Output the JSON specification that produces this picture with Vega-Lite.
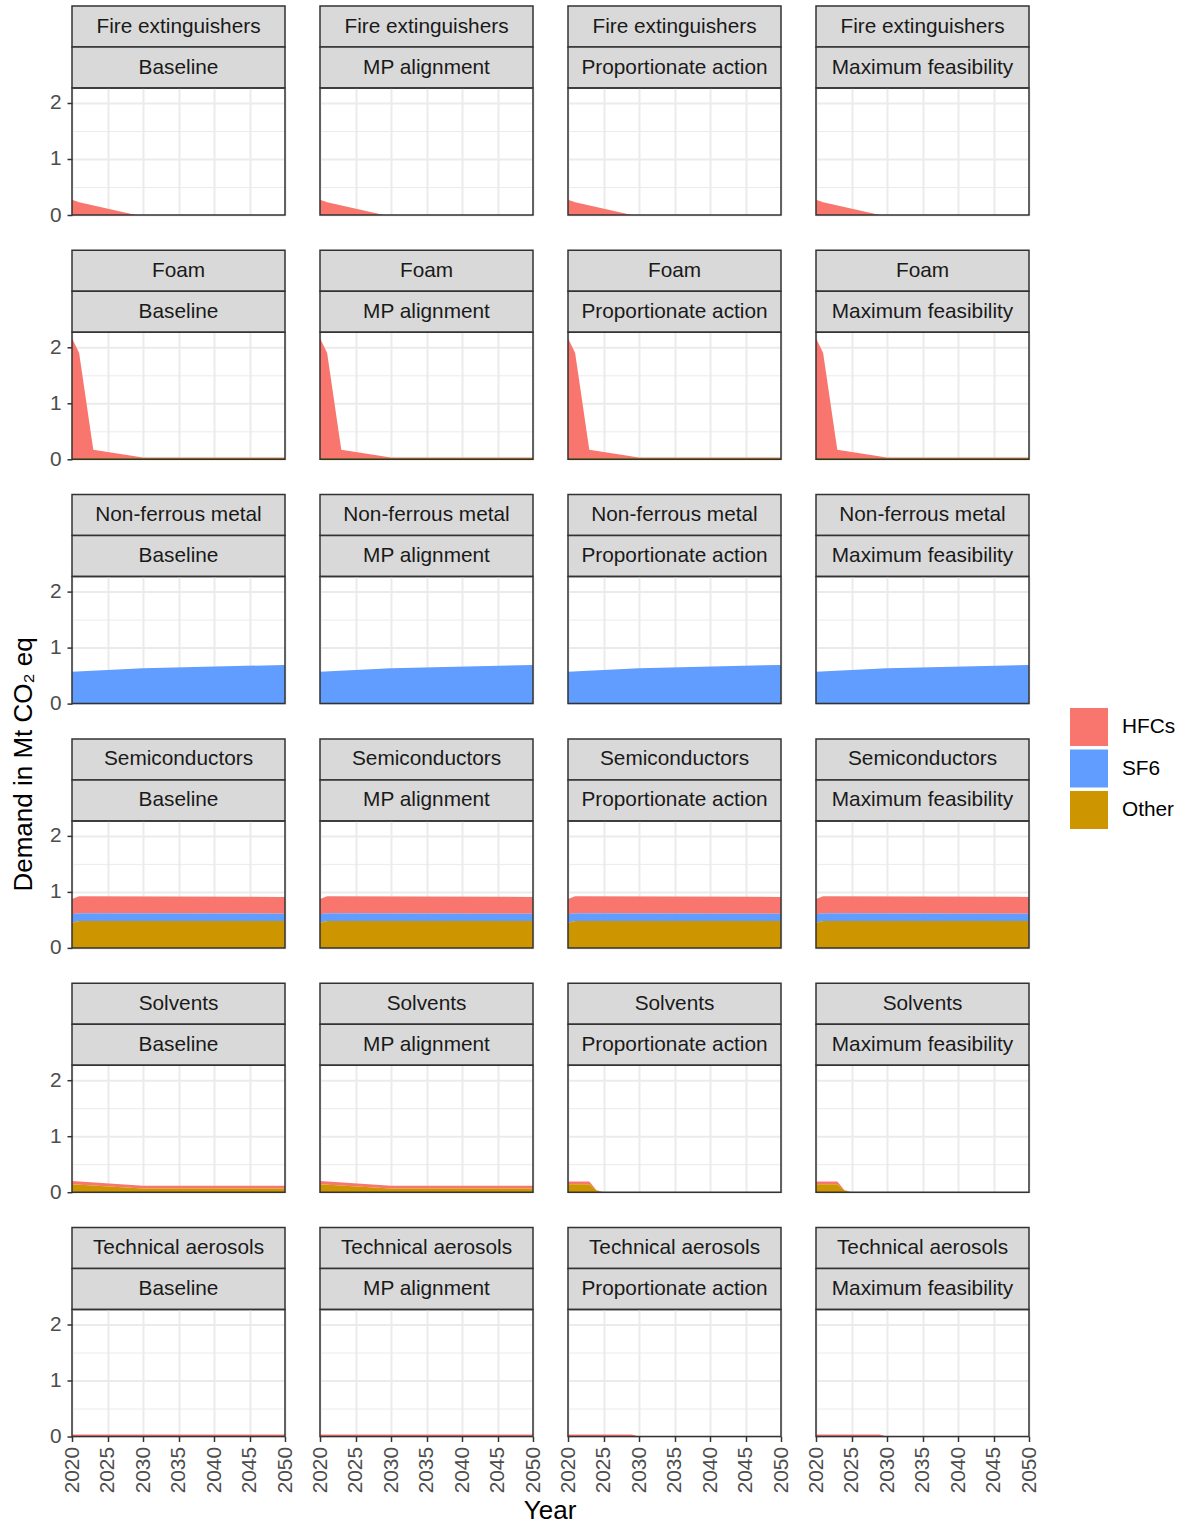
{
"$schema": "https://vega.github.io/schema/vega-lite/v6.json",
"padding": {"left": 10, "top": 5, "right": 5, "bottom": 1},
"title": {"text": "Demand in Mt CO₂ eq", "orient": "left", "anchor": "middle", "fontSize": 26, "fontWeight": "normal", "color": "black", "offset": 12},
"data": {"name": "d"},
"transform": [{"fold": ["HFCs","SF6","Other"], "as": ["gas","v"]}, {"calculate": "indexof(['Other','SF6','HFCs'], datum.gas)", "as": "k"}],
"datasets": {
"p": [
{"sector":"Fire extinguishers","scenario":"Baseline"},{"sector":"Fire extinguishers","scenario":"MP alignment"},{"sector":"Fire extinguishers","scenario":"Proportionate action"},{"sector":"Fire extinguishers","scenario":"Maximum feasibility"},
{"sector":"Foam","scenario":"Baseline"},{"sector":"Foam","scenario":"MP alignment"},{"sector":"Foam","scenario":"Proportionate action"},{"sector":"Foam","scenario":"Maximum feasibility"},
{"sector":"Non-ferrous metal","scenario":"Baseline"},{"sector":"Non-ferrous metal","scenario":"MP alignment"},{"sector":"Non-ferrous metal","scenario":"Proportionate action"},{"sector":"Non-ferrous metal","scenario":"Maximum feasibility"},
{"sector":"Semiconductors","scenario":"Baseline"},{"sector":"Semiconductors","scenario":"MP alignment"},{"sector":"Semiconductors","scenario":"Proportionate action"},{"sector":"Semiconductors","scenario":"Maximum feasibility"},
{"sector":"Solvents","scenario":"Baseline"},{"sector":"Solvents","scenario":"MP alignment"},{"sector":"Solvents","scenario":"Proportionate action"},{"sector":"Solvents","scenario":"Maximum feasibility"},
{"sector":"Technical aerosols","scenario":"Baseline"},{"sector":"Technical aerosols","scenario":"MP alignment"},{"sector":"Technical aerosols","scenario":"Proportionate action"},{"sector":"Technical aerosols","scenario":"Maximum feasibility"}
],
"d": [
{"sector":"Fire extinguishers","scenario":"Baseline","year":2020,"HFCs":0.27,"SF6":0,"Other":0},
{"sector":"Fire extinguishers","scenario":"Baseline","year":2021,"HFCs":0.226,"SF6":0,"Other":0},
{"sector":"Fire extinguishers","scenario":"Baseline","year":2029,"HFCs":0,"SF6":0,"Other":0},
{"sector":"Fire extinguishers","scenario":"Baseline","year":2050,"HFCs":0,"SF6":0,"Other":0},
{"sector":"Fire extinguishers","scenario":"MP alignment","year":2020,"HFCs":0.27,"SF6":0,"Other":0},
{"sector":"Fire extinguishers","scenario":"MP alignment","year":2021,"HFCs":0.226,"SF6":0,"Other":0},
{"sector":"Fire extinguishers","scenario":"MP alignment","year":2029,"HFCs":0,"SF6":0,"Other":0},
{"sector":"Fire extinguishers","scenario":"MP alignment","year":2050,"HFCs":0,"SF6":0,"Other":0},
{"sector":"Fire extinguishers","scenario":"Proportionate action","year":2020,"HFCs":0.27,"SF6":0,"Other":0},
{"sector":"Fire extinguishers","scenario":"Proportionate action","year":2021,"HFCs":0.226,"SF6":0,"Other":0},
{"sector":"Fire extinguishers","scenario":"Proportionate action","year":2029,"HFCs":0,"SF6":0,"Other":0},
{"sector":"Fire extinguishers","scenario":"Proportionate action","year":2050,"HFCs":0,"SF6":0,"Other":0},
{"sector":"Fire extinguishers","scenario":"Maximum feasibility","year":2020,"HFCs":0.27,"SF6":0,"Other":0},
{"sector":"Fire extinguishers","scenario":"Maximum feasibility","year":2021,"HFCs":0.226,"SF6":0,"Other":0},
{"sector":"Fire extinguishers","scenario":"Maximum feasibility","year":2029,"HFCs":0,"SF6":0,"Other":0},
{"sector":"Fire extinguishers","scenario":"Maximum feasibility","year":2050,"HFCs":0,"SF6":0,"Other":0},
{"sector":"Foam","scenario":"Baseline","year":2020,"HFCs":2.135,"SF6":0,"Other":0.025},
{"sector":"Foam","scenario":"Baseline","year":2021,"HFCs":1.875,"SF6":0,"Other":0.025},
{"sector":"Foam","scenario":"Baseline","year":2023,"HFCs":0.145,"SF6":0,"Other":0.025},
{"sector":"Foam","scenario":"Baseline","year":2030,"HFCs":0.005,"SF6":0,"Other":0.025},
{"sector":"Foam","scenario":"Baseline","year":2050,"HFCs":0.005,"SF6":0,"Other":0.025},
{"sector":"Foam","scenario":"MP alignment","year":2020,"HFCs":2.135,"SF6":0,"Other":0.025},
{"sector":"Foam","scenario":"MP alignment","year":2021,"HFCs":1.875,"SF6":0,"Other":0.025},
{"sector":"Foam","scenario":"MP alignment","year":2023,"HFCs":0.145,"SF6":0,"Other":0.025},
{"sector":"Foam","scenario":"MP alignment","year":2030,"HFCs":0.005,"SF6":0,"Other":0.025},
{"sector":"Foam","scenario":"MP alignment","year":2050,"HFCs":0.005,"SF6":0,"Other":0.025},
{"sector":"Foam","scenario":"Proportionate action","year":2020,"HFCs":2.135,"SF6":0,"Other":0.025},
{"sector":"Foam","scenario":"Proportionate action","year":2021,"HFCs":1.875,"SF6":0,"Other":0.025},
{"sector":"Foam","scenario":"Proportionate action","year":2023,"HFCs":0.145,"SF6":0,"Other":0.025},
{"sector":"Foam","scenario":"Proportionate action","year":2030,"HFCs":0.005,"SF6":0,"Other":0.025},
{"sector":"Foam","scenario":"Proportionate action","year":2050,"HFCs":0.005,"SF6":0,"Other":0.025},
{"sector":"Foam","scenario":"Maximum feasibility","year":2020,"HFCs":2.135,"SF6":0,"Other":0.025},
{"sector":"Foam","scenario":"Maximum feasibility","year":2021,"HFCs":1.875,"SF6":0,"Other":0.025},
{"sector":"Foam","scenario":"Maximum feasibility","year":2023,"HFCs":0.145,"SF6":0,"Other":0.025},
{"sector":"Foam","scenario":"Maximum feasibility","year":2030,"HFCs":0.005,"SF6":0,"Other":0.025},
{"sector":"Foam","scenario":"Maximum feasibility","year":2050,"HFCs":0.005,"SF6":0,"Other":0.025},
{"sector":"Non-ferrous metal","scenario":"Baseline","year":2020,"HFCs":0,"SF6":0.57,"Other":0},
{"sector":"Non-ferrous metal","scenario":"Baseline","year":2025,"HFCs":0,"SF6":0.6,"Other":0},
{"sector":"Non-ferrous metal","scenario":"Baseline","year":2030,"HFCs":0,"SF6":0.63,"Other":0},
{"sector":"Non-ferrous metal","scenario":"Baseline","year":2050,"HFCs":0,"SF6":0.69,"Other":0},
{"sector":"Non-ferrous metal","scenario":"MP alignment","year":2020,"HFCs":0,"SF6":0.57,"Other":0},
{"sector":"Non-ferrous metal","scenario":"MP alignment","year":2025,"HFCs":0,"SF6":0.6,"Other":0},
{"sector":"Non-ferrous metal","scenario":"MP alignment","year":2030,"HFCs":0,"SF6":0.63,"Other":0},
{"sector":"Non-ferrous metal","scenario":"MP alignment","year":2050,"HFCs":0,"SF6":0.69,"Other":0},
{"sector":"Non-ferrous metal","scenario":"Proportionate action","year":2020,"HFCs":0,"SF6":0.57,"Other":0},
{"sector":"Non-ferrous metal","scenario":"Proportionate action","year":2025,"HFCs":0,"SF6":0.6,"Other":0},
{"sector":"Non-ferrous metal","scenario":"Proportionate action","year":2030,"HFCs":0,"SF6":0.63,"Other":0},
{"sector":"Non-ferrous metal","scenario":"Proportionate action","year":2050,"HFCs":0,"SF6":0.69,"Other":0},
{"sector":"Non-ferrous metal","scenario":"Maximum feasibility","year":2020,"HFCs":0,"SF6":0.57,"Other":0},
{"sector":"Non-ferrous metal","scenario":"Maximum feasibility","year":2025,"HFCs":0,"SF6":0.6,"Other":0},
{"sector":"Non-ferrous metal","scenario":"Maximum feasibility","year":2030,"HFCs":0,"SF6":0.63,"Other":0},
{"sector":"Non-ferrous metal","scenario":"Maximum feasibility","year":2050,"HFCs":0,"SF6":0.69,"Other":0},
{"sector":"Semiconductors","scenario":"Baseline","year":2020,"HFCs":0.27,"SF6":0.15,"Other":0.45},
{"sector":"Semiconductors","scenario":"Baseline","year":2021,"HFCs":0.3,"SF6":0.14,"Other":0.48},
{"sector":"Semiconductors","scenario":"Baseline","year":2050,"HFCs":0.3,"SF6":0.13,"Other":0.48},
{"sector":"Semiconductors","scenario":"MP alignment","year":2020,"HFCs":0.27,"SF6":0.15,"Other":0.45},
{"sector":"Semiconductors","scenario":"MP alignment","year":2021,"HFCs":0.3,"SF6":0.14,"Other":0.48},
{"sector":"Semiconductors","scenario":"MP alignment","year":2050,"HFCs":0.3,"SF6":0.13,"Other":0.48},
{"sector":"Semiconductors","scenario":"Proportionate action","year":2020,"HFCs":0.27,"SF6":0.15,"Other":0.45},
{"sector":"Semiconductors","scenario":"Proportionate action","year":2021,"HFCs":0.3,"SF6":0.14,"Other":0.48},
{"sector":"Semiconductors","scenario":"Proportionate action","year":2050,"HFCs":0.3,"SF6":0.13,"Other":0.48},
{"sector":"Semiconductors","scenario":"Maximum feasibility","year":2020,"HFCs":0.27,"SF6":0.15,"Other":0.45},
{"sector":"Semiconductors","scenario":"Maximum feasibility","year":2021,"HFCs":0.3,"SF6":0.14,"Other":0.48},
{"sector":"Semiconductors","scenario":"Maximum feasibility","year":2050,"HFCs":0.3,"SF6":0.13,"Other":0.48},
{"sector":"Solvents","scenario":"Baseline","year":2020,"HFCs":0.06,"SF6":0,"Other":0.14},
{"sector":"Solvents","scenario":"Baseline","year":2030,"HFCs":0.05,"SF6":0,"Other":0.065},
{"sector":"Solvents","scenario":"Baseline","year":2050,"HFCs":0.05,"SF6":0,"Other":0.065},
{"sector":"Solvents","scenario":"MP alignment","year":2020,"HFCs":0.06,"SF6":0,"Other":0.14},
{"sector":"Solvents","scenario":"MP alignment","year":2030,"HFCs":0.05,"SF6":0,"Other":0.065},
{"sector":"Solvents","scenario":"MP alignment","year":2050,"HFCs":0.05,"SF6":0,"Other":0.065},
{"sector":"Solvents","scenario":"Proportionate action","year":2020,"HFCs":0.05,"SF6":0,"Other":0.14},
{"sector":"Solvents","scenario":"Proportionate action","year":2023,"HFCs":0.05,"SF6":0,"Other":0.14},
{"sector":"Solvents","scenario":"Proportionate action","year":2024,"HFCs":0.01,"SF6":0,"Other":0.03},
{"sector":"Solvents","scenario":"Proportionate action","year":2025,"HFCs":0,"SF6":0,"Other":0},
{"sector":"Solvents","scenario":"Proportionate action","year":2050,"HFCs":0,"SF6":0,"Other":0},
{"sector":"Solvents","scenario":"Maximum feasibility","year":2020,"HFCs":0.05,"SF6":0,"Other":0.14},
{"sector":"Solvents","scenario":"Maximum feasibility","year":2023,"HFCs":0.05,"SF6":0,"Other":0.14},
{"sector":"Solvents","scenario":"Maximum feasibility","year":2024,"HFCs":0.01,"SF6":0,"Other":0.03},
{"sector":"Solvents","scenario":"Maximum feasibility","year":2025,"HFCs":0,"SF6":0,"Other":0},
{"sector":"Solvents","scenario":"Maximum feasibility","year":2050,"HFCs":0,"SF6":0,"Other":0},
{"sector":"Technical aerosols","scenario":"Baseline","year":2020,"HFCs":0.035,"SF6":0,"Other":0},
{"sector":"Technical aerosols","scenario":"Baseline","year":2050,"HFCs":0.035,"SF6":0,"Other":0},
{"sector":"Technical aerosols","scenario":"MP alignment","year":2020,"HFCs":0.035,"SF6":0,"Other":0},
{"sector":"Technical aerosols","scenario":"MP alignment","year":2050,"HFCs":0.035,"SF6":0,"Other":0},
{"sector":"Technical aerosols","scenario":"Proportionate action","year":2020,"HFCs":0.035,"SF6":0,"Other":0},
{"sector":"Technical aerosols","scenario":"Proportionate action","year":2029,"HFCs":0.035,"SF6":0,"Other":0},
{"sector":"Technical aerosols","scenario":"Proportionate action","year":2030,"HFCs":0,"SF6":0,"Other":0},
{"sector":"Technical aerosols","scenario":"Proportionate action","year":2050,"HFCs":0,"SF6":0,"Other":0},
{"sector":"Technical aerosols","scenario":"Maximum feasibility","year":2020,"HFCs":0.035,"SF6":0,"Other":0},
{"sector":"Technical aerosols","scenario":"Maximum feasibility","year":2029,"HFCs":0.035,"SF6":0,"Other":0},
{"sector":"Technical aerosols","scenario":"Maximum feasibility","year":2030,"HFCs":0,"SF6":0,"Other":0},
{"sector":"Technical aerosols","scenario":"Maximum feasibility","year":2050,"HFCs":0,"SF6":0,"Other":0}
]
},
"spacing": 23.3,
"vconcat": [
{"hconcat": [
{"vconcat":[
{"width":213,"height":41,"view":{"fill":"#D9D9D9","stroke":"#333333","strokeWidth":1.5},"data":{"name":"p"},"transform":[{"filter":"datum.sector=='Fire extinguishers'&&datum.scenario=='Baseline'"}],"mark":"text","encoding":{"text":{"field":"sector"}}},
{"width":213,"height":41,"view":{"fill":"#D9D9D9","stroke":"#333333","strokeWidth":1.5},"data":{"name":"p"},"transform":[{"filter":"datum.sector=='Fire extinguishers'&&datum.scenario=='Baseline'"}],"mark":"text","encoding":{"text":{"field":"scenario"}}},
{"width":213,"height":127,"transform":[{"filter":"datum.sector=='Fire extinguishers'&&datum.scenario=='Baseline'"}],"mark":"area","encoding":{"x":{"field":"year","type":"quantitative","scale":{"domain":[2020,2050],"nice":false,"zero":false},"axis":{"labels":false,"ticks":false,"title":null}},"y":{"field":"v","type":"quantitative","stack":"zero","scale":{"domain":[0,2.265],"nice":false},"axis":{"title":null,"gridWidth":{"condition":{"test":"datum.value % 1","value":1},"value":2},"tickOpacity":{"condition":{"test":"datum.value % 1","value":0},"value":1}}},"order":{"field":"k","type":"quantitative"},"color":{"field":"gas","type":"nominal","title":null,"sort":["HFCs","SF6","Other"],"scale":{"domain":["HFCs","SF6","Other"],"range":["#F8766D","#619CFF","#CD9600"]}}}}
],"spacing":0,"bounds":"flush"},
{"vconcat":[
{"width":213,"height":41,"view":{"fill":"#D9D9D9","stroke":"#333333","strokeWidth":1.5},"data":{"name":"p"},"transform":[{"filter":"datum.sector=='Fire extinguishers'&&datum.scenario=='MP alignment'"}],"mark":"text","encoding":{"text":{"field":"sector"}}},
{"width":213,"height":41,"view":{"fill":"#D9D9D9","stroke":"#333333","strokeWidth":1.5},"data":{"name":"p"},"transform":[{"filter":"datum.sector=='Fire extinguishers'&&datum.scenario=='MP alignment'"}],"mark":"text","encoding":{"text":{"field":"scenario"}}},
{"width":213,"height":127,"transform":[{"filter":"datum.sector=='Fire extinguishers'&&datum.scenario=='MP alignment'"}],"mark":"area","encoding":{"x":{"field":"year","type":"quantitative","scale":{"domain":[2020,2050],"nice":false,"zero":false},"axis":{"labels":false,"ticks":false,"title":null}},"y":{"field":"v","type":"quantitative","stack":"zero","scale":{"domain":[0,2.265],"nice":false},"axis":{"title":null,"labels":false,"ticks":false,"gridWidth":{"condition":{"test":"datum.value % 1","value":1},"value":2}}},"order":{"field":"k","type":"quantitative"},"color":{"field":"gas","type":"nominal","title":null,"sort":["HFCs","SF6","Other"],"scale":{"domain":["HFCs","SF6","Other"],"range":["#F8766D","#619CFF","#CD9600"]}}}}
],"spacing":0,"bounds":"flush"},
{"vconcat":[
{"width":213,"height":41,"view":{"fill":"#D9D9D9","stroke":"#333333","strokeWidth":1.5},"data":{"name":"p"},"transform":[{"filter":"datum.sector=='Fire extinguishers'&&datum.scenario=='Proportionate action'"}],"mark":"text","encoding":{"text":{"field":"sector"}}},
{"width":213,"height":41,"view":{"fill":"#D9D9D9","stroke":"#333333","strokeWidth":1.5},"data":{"name":"p"},"transform":[{"filter":"datum.sector=='Fire extinguishers'&&datum.scenario=='Proportionate action'"}],"mark":"text","encoding":{"text":{"field":"scenario"}}},
{"width":213,"height":127,"transform":[{"filter":"datum.sector=='Fire extinguishers'&&datum.scenario=='Proportionate action'"}],"mark":"area","encoding":{"x":{"field":"year","type":"quantitative","scale":{"domain":[2020,2050],"nice":false,"zero":false},"axis":{"labels":false,"ticks":false,"title":null}},"y":{"field":"v","type":"quantitative","stack":"zero","scale":{"domain":[0,2.265],"nice":false},"axis":{"title":null,"labels":false,"ticks":false,"gridWidth":{"condition":{"test":"datum.value % 1","value":1},"value":2}}},"order":{"field":"k","type":"quantitative"},"color":{"field":"gas","type":"nominal","title":null,"sort":["HFCs","SF6","Other"],"scale":{"domain":["HFCs","SF6","Other"],"range":["#F8766D","#619CFF","#CD9600"]}}}}
],"spacing":0,"bounds":"flush"},
{"vconcat":[
{"width":213,"height":41,"view":{"fill":"#D9D9D9","stroke":"#333333","strokeWidth":1.5},"data":{"name":"p"},"transform":[{"filter":"datum.sector=='Fire extinguishers'&&datum.scenario=='Maximum feasibility'"}],"mark":"text","encoding":{"text":{"field":"sector"}}},
{"width":213,"height":41,"view":{"fill":"#D9D9D9","stroke":"#333333","strokeWidth":1.5},"data":{"name":"p"},"transform":[{"filter":"datum.sector=='Fire extinguishers'&&datum.scenario=='Maximum feasibility'"}],"mark":"text","encoding":{"text":{"field":"scenario"}}},
{"width":213,"height":127,"transform":[{"filter":"datum.sector=='Fire extinguishers'&&datum.scenario=='Maximum feasibility'"}],"mark":"area","encoding":{"x":{"field":"year","type":"quantitative","scale":{"domain":[2020,2050],"nice":false,"zero":false},"axis":{"labels":false,"ticks":false,"title":null}},"y":{"field":"v","type":"quantitative","stack":"zero","scale":{"domain":[0,2.265],"nice":false},"axis":{"title":null,"labels":false,"ticks":false,"gridWidth":{"condition":{"test":"datum.value % 1","value":1},"value":2}}},"order":{"field":"k","type":"quantitative"},"color":{"field":"gas","type":"nominal","title":null,"sort":["HFCs","SF6","Other"],"scale":{"domain":["HFCs","SF6","Other"],"range":["#F8766D","#619CFF","#CD9600"]}}}}
],"spacing":0,"bounds":"flush"}
],"spacing":33},
{"hconcat": [
{"vconcat":[
{"width":213,"height":41,"view":{"fill":"#D9D9D9","stroke":"#333333","strokeWidth":1.5},"data":{"name":"p"},"transform":[{"filter":"datum.sector=='Foam'&&datum.scenario=='Baseline'"}],"mark":"text","encoding":{"text":{"field":"sector"}}},
{"width":213,"height":41,"view":{"fill":"#D9D9D9","stroke":"#333333","strokeWidth":1.5},"data":{"name":"p"},"transform":[{"filter":"datum.sector=='Foam'&&datum.scenario=='Baseline'"}],"mark":"text","encoding":{"text":{"field":"scenario"}}},
{"width":213,"height":127,"transform":[{"filter":"datum.sector=='Foam'&&datum.scenario=='Baseline'"}],"mark":"area","encoding":{"x":{"field":"year","type":"quantitative","scale":{"domain":[2020,2050],"nice":false,"zero":false},"axis":{"labels":false,"ticks":false,"title":null}},"y":{"field":"v","type":"quantitative","stack":"zero","scale":{"domain":[0,2.265],"nice":false},"axis":{"title":null,"gridWidth":{"condition":{"test":"datum.value % 1","value":1},"value":2},"tickOpacity":{"condition":{"test":"datum.value % 1","value":0},"value":1}}},"order":{"field":"k","type":"quantitative"},"color":{"field":"gas","type":"nominal","title":null,"sort":["HFCs","SF6","Other"],"scale":{"domain":["HFCs","SF6","Other"],"range":["#F8766D","#619CFF","#CD9600"]}}}}
],"spacing":0,"bounds":"flush"},
{"vconcat":[
{"width":213,"height":41,"view":{"fill":"#D9D9D9","stroke":"#333333","strokeWidth":1.5},"data":{"name":"p"},"transform":[{"filter":"datum.sector=='Foam'&&datum.scenario=='MP alignment'"}],"mark":"text","encoding":{"text":{"field":"sector"}}},
{"width":213,"height":41,"view":{"fill":"#D9D9D9","stroke":"#333333","strokeWidth":1.5},"data":{"name":"p"},"transform":[{"filter":"datum.sector=='Foam'&&datum.scenario=='MP alignment'"}],"mark":"text","encoding":{"text":{"field":"scenario"}}},
{"width":213,"height":127,"transform":[{"filter":"datum.sector=='Foam'&&datum.scenario=='MP alignment'"}],"mark":"area","encoding":{"x":{"field":"year","type":"quantitative","scale":{"domain":[2020,2050],"nice":false,"zero":false},"axis":{"labels":false,"ticks":false,"title":null}},"y":{"field":"v","type":"quantitative","stack":"zero","scale":{"domain":[0,2.265],"nice":false},"axis":{"title":null,"labels":false,"ticks":false,"gridWidth":{"condition":{"test":"datum.value % 1","value":1},"value":2}}},"order":{"field":"k","type":"quantitative"},"color":{"field":"gas","type":"nominal","title":null,"sort":["HFCs","SF6","Other"],"scale":{"domain":["HFCs","SF6","Other"],"range":["#F8766D","#619CFF","#CD9600"]}}}}
],"spacing":0,"bounds":"flush"},
{"vconcat":[
{"width":213,"height":41,"view":{"fill":"#D9D9D9","stroke":"#333333","strokeWidth":1.5},"data":{"name":"p"},"transform":[{"filter":"datum.sector=='Foam'&&datum.scenario=='Proportionate action'"}],"mark":"text","encoding":{"text":{"field":"sector"}}},
{"width":213,"height":41,"view":{"fill":"#D9D9D9","stroke":"#333333","strokeWidth":1.5},"data":{"name":"p"},"transform":[{"filter":"datum.sector=='Foam'&&datum.scenario=='Proportionate action'"}],"mark":"text","encoding":{"text":{"field":"scenario"}}},
{"width":213,"height":127,"transform":[{"filter":"datum.sector=='Foam'&&datum.scenario=='Proportionate action'"}],"mark":"area","encoding":{"x":{"field":"year","type":"quantitative","scale":{"domain":[2020,2050],"nice":false,"zero":false},"axis":{"labels":false,"ticks":false,"title":null}},"y":{"field":"v","type":"quantitative","stack":"zero","scale":{"domain":[0,2.265],"nice":false},"axis":{"title":null,"labels":false,"ticks":false,"gridWidth":{"condition":{"test":"datum.value % 1","value":1},"value":2}}},"order":{"field":"k","type":"quantitative"},"color":{"field":"gas","type":"nominal","title":null,"sort":["HFCs","SF6","Other"],"scale":{"domain":["HFCs","SF6","Other"],"range":["#F8766D","#619CFF","#CD9600"]}}}}
],"spacing":0,"bounds":"flush"},
{"vconcat":[
{"width":213,"height":41,"view":{"fill":"#D9D9D9","stroke":"#333333","strokeWidth":1.5},"data":{"name":"p"},"transform":[{"filter":"datum.sector=='Foam'&&datum.scenario=='Maximum feasibility'"}],"mark":"text","encoding":{"text":{"field":"sector"}}},
{"width":213,"height":41,"view":{"fill":"#D9D9D9","stroke":"#333333","strokeWidth":1.5},"data":{"name":"p"},"transform":[{"filter":"datum.sector=='Foam'&&datum.scenario=='Maximum feasibility'"}],"mark":"text","encoding":{"text":{"field":"scenario"}}},
{"width":213,"height":127,"transform":[{"filter":"datum.sector=='Foam'&&datum.scenario=='Maximum feasibility'"}],"mark":"area","encoding":{"x":{"field":"year","type":"quantitative","scale":{"domain":[2020,2050],"nice":false,"zero":false},"axis":{"labels":false,"ticks":false,"title":null}},"y":{"field":"v","type":"quantitative","stack":"zero","scale":{"domain":[0,2.265],"nice":false},"axis":{"title":null,"labels":false,"ticks":false,"gridWidth":{"condition":{"test":"datum.value % 1","value":1},"value":2}}},"order":{"field":"k","type":"quantitative"},"color":{"field":"gas","type":"nominal","title":null,"sort":["HFCs","SF6","Other"],"scale":{"domain":["HFCs","SF6","Other"],"range":["#F8766D","#619CFF","#CD9600"]}}}}
],"spacing":0,"bounds":"flush"}
],"spacing":33},
{"hconcat": [
{"vconcat":[
{"width":213,"height":41,"view":{"fill":"#D9D9D9","stroke":"#333333","strokeWidth":1.5},"data":{"name":"p"},"transform":[{"filter":"datum.sector=='Non-ferrous metal'&&datum.scenario=='Baseline'"}],"mark":"text","encoding":{"text":{"field":"sector"}}},
{"width":213,"height":41,"view":{"fill":"#D9D9D9","stroke":"#333333","strokeWidth":1.5},"data":{"name":"p"},"transform":[{"filter":"datum.sector=='Non-ferrous metal'&&datum.scenario=='Baseline'"}],"mark":"text","encoding":{"text":{"field":"scenario"}}},
{"width":213,"height":127,"transform":[{"filter":"datum.sector=='Non-ferrous metal'&&datum.scenario=='Baseline'"}],"mark":"area","encoding":{"x":{"field":"year","type":"quantitative","scale":{"domain":[2020,2050],"nice":false,"zero":false},"axis":{"labels":false,"ticks":false,"title":null}},"y":{"field":"v","type":"quantitative","stack":"zero","scale":{"domain":[0,2.265],"nice":false},"axis":{"title":null,"gridWidth":{"condition":{"test":"datum.value % 1","value":1},"value":2},"tickOpacity":{"condition":{"test":"datum.value % 1","value":0},"value":1}}},"order":{"field":"k","type":"quantitative"},"color":{"field":"gas","type":"nominal","title":null,"sort":["HFCs","SF6","Other"],"scale":{"domain":["HFCs","SF6","Other"],"range":["#F8766D","#619CFF","#CD9600"]}}}}
],"spacing":0,"bounds":"flush"},
{"vconcat":[
{"width":213,"height":41,"view":{"fill":"#D9D9D9","stroke":"#333333","strokeWidth":1.5},"data":{"name":"p"},"transform":[{"filter":"datum.sector=='Non-ferrous metal'&&datum.scenario=='MP alignment'"}],"mark":"text","encoding":{"text":{"field":"sector"}}},
{"width":213,"height":41,"view":{"fill":"#D9D9D9","stroke":"#333333","strokeWidth":1.5},"data":{"name":"p"},"transform":[{"filter":"datum.sector=='Non-ferrous metal'&&datum.scenario=='MP alignment'"}],"mark":"text","encoding":{"text":{"field":"scenario"}}},
{"width":213,"height":127,"transform":[{"filter":"datum.sector=='Non-ferrous metal'&&datum.scenario=='MP alignment'"}],"mark":"area","encoding":{"x":{"field":"year","type":"quantitative","scale":{"domain":[2020,2050],"nice":false,"zero":false},"axis":{"labels":false,"ticks":false,"title":null}},"y":{"field":"v","type":"quantitative","stack":"zero","scale":{"domain":[0,2.265],"nice":false},"axis":{"title":null,"labels":false,"ticks":false,"gridWidth":{"condition":{"test":"datum.value % 1","value":1},"value":2}}},"order":{"field":"k","type":"quantitative"},"color":{"field":"gas","type":"nominal","title":null,"sort":["HFCs","SF6","Other"],"scale":{"domain":["HFCs","SF6","Other"],"range":["#F8766D","#619CFF","#CD9600"]}}}}
],"spacing":0,"bounds":"flush"},
{"vconcat":[
{"width":213,"height":41,"view":{"fill":"#D9D9D9","stroke":"#333333","strokeWidth":1.5},"data":{"name":"p"},"transform":[{"filter":"datum.sector=='Non-ferrous metal'&&datum.scenario=='Proportionate action'"}],"mark":"text","encoding":{"text":{"field":"sector"}}},
{"width":213,"height":41,"view":{"fill":"#D9D9D9","stroke":"#333333","strokeWidth":1.5},"data":{"name":"p"},"transform":[{"filter":"datum.sector=='Non-ferrous metal'&&datum.scenario=='Proportionate action'"}],"mark":"text","encoding":{"text":{"field":"scenario"}}},
{"width":213,"height":127,"transform":[{"filter":"datum.sector=='Non-ferrous metal'&&datum.scenario=='Proportionate action'"}],"mark":"area","encoding":{"x":{"field":"year","type":"quantitative","scale":{"domain":[2020,2050],"nice":false,"zero":false},"axis":{"labels":false,"ticks":false,"title":null}},"y":{"field":"v","type":"quantitative","stack":"zero","scale":{"domain":[0,2.265],"nice":false},"axis":{"title":null,"labels":false,"ticks":false,"gridWidth":{"condition":{"test":"datum.value % 1","value":1},"value":2}}},"order":{"field":"k","type":"quantitative"},"color":{"field":"gas","type":"nominal","title":null,"sort":["HFCs","SF6","Other"],"scale":{"domain":["HFCs","SF6","Other"],"range":["#F8766D","#619CFF","#CD9600"]}}}}
],"spacing":0,"bounds":"flush"},
{"vconcat":[
{"width":213,"height":41,"view":{"fill":"#D9D9D9","stroke":"#333333","strokeWidth":1.5},"data":{"name":"p"},"transform":[{"filter":"datum.sector=='Non-ferrous metal'&&datum.scenario=='Maximum feasibility'"}],"mark":"text","encoding":{"text":{"field":"sector"}}},
{"width":213,"height":41,"view":{"fill":"#D9D9D9","stroke":"#333333","strokeWidth":1.5},"data":{"name":"p"},"transform":[{"filter":"datum.sector=='Non-ferrous metal'&&datum.scenario=='Maximum feasibility'"}],"mark":"text","encoding":{"text":{"field":"scenario"}}},
{"width":213,"height":127,"transform":[{"filter":"datum.sector=='Non-ferrous metal'&&datum.scenario=='Maximum feasibility'"}],"mark":"area","encoding":{"x":{"field":"year","type":"quantitative","scale":{"domain":[2020,2050],"nice":false,"zero":false},"axis":{"labels":false,"ticks":false,"title":null}},"y":{"field":"v","type":"quantitative","stack":"zero","scale":{"domain":[0,2.265],"nice":false},"axis":{"title":null,"labels":false,"ticks":false,"gridWidth":{"condition":{"test":"datum.value % 1","value":1},"value":2}}},"order":{"field":"k","type":"quantitative"},"color":{"field":"gas","type":"nominal","title":null,"sort":["HFCs","SF6","Other"],"scale":{"domain":["HFCs","SF6","Other"],"range":["#F8766D","#619CFF","#CD9600"]}}}}
],"spacing":0,"bounds":"flush"}
],"spacing":33},
{"hconcat": [
{"vconcat":[
{"width":213,"height":41,"view":{"fill":"#D9D9D9","stroke":"#333333","strokeWidth":1.5},"data":{"name":"p"},"transform":[{"filter":"datum.sector=='Semiconductors'&&datum.scenario=='Baseline'"}],"mark":"text","encoding":{"text":{"field":"sector"}}},
{"width":213,"height":41,"view":{"fill":"#D9D9D9","stroke":"#333333","strokeWidth":1.5},"data":{"name":"p"},"transform":[{"filter":"datum.sector=='Semiconductors'&&datum.scenario=='Baseline'"}],"mark":"text","encoding":{"text":{"field":"scenario"}}},
{"width":213,"height":127,"transform":[{"filter":"datum.sector=='Semiconductors'&&datum.scenario=='Baseline'"}],"mark":"area","encoding":{"x":{"field":"year","type":"quantitative","scale":{"domain":[2020,2050],"nice":false,"zero":false},"axis":{"labels":false,"ticks":false,"title":null}},"y":{"field":"v","type":"quantitative","stack":"zero","scale":{"domain":[0,2.265],"nice":false},"axis":{"title":null,"gridWidth":{"condition":{"test":"datum.value % 1","value":1},"value":2},"tickOpacity":{"condition":{"test":"datum.value % 1","value":0},"value":1}}},"order":{"field":"k","type":"quantitative"},"color":{"field":"gas","type":"nominal","title":null,"sort":["HFCs","SF6","Other"],"scale":{"domain":["HFCs","SF6","Other"],"range":["#F8766D","#619CFF","#CD9600"]}}}}
],"spacing":0,"bounds":"flush"},
{"vconcat":[
{"width":213,"height":41,"view":{"fill":"#D9D9D9","stroke":"#333333","strokeWidth":1.5},"data":{"name":"p"},"transform":[{"filter":"datum.sector=='Semiconductors'&&datum.scenario=='MP alignment'"}],"mark":"text","encoding":{"text":{"field":"sector"}}},
{"width":213,"height":41,"view":{"fill":"#D9D9D9","stroke":"#333333","strokeWidth":1.5},"data":{"name":"p"},"transform":[{"filter":"datum.sector=='Semiconductors'&&datum.scenario=='MP alignment'"}],"mark":"text","encoding":{"text":{"field":"scenario"}}},
{"width":213,"height":127,"transform":[{"filter":"datum.sector=='Semiconductors'&&datum.scenario=='MP alignment'"}],"mark":"area","encoding":{"x":{"field":"year","type":"quantitative","scale":{"domain":[2020,2050],"nice":false,"zero":false},"axis":{"labels":false,"ticks":false,"title":null}},"y":{"field":"v","type":"quantitative","stack":"zero","scale":{"domain":[0,2.265],"nice":false},"axis":{"title":null,"labels":false,"ticks":false,"gridWidth":{"condition":{"test":"datum.value % 1","value":1},"value":2}}},"order":{"field":"k","type":"quantitative"},"color":{"field":"gas","type":"nominal","title":null,"sort":["HFCs","SF6","Other"],"scale":{"domain":["HFCs","SF6","Other"],"range":["#F8766D","#619CFF","#CD9600"]}}}}
],"spacing":0,"bounds":"flush"},
{"vconcat":[
{"width":213,"height":41,"view":{"fill":"#D9D9D9","stroke":"#333333","strokeWidth":1.5},"data":{"name":"p"},"transform":[{"filter":"datum.sector=='Semiconductors'&&datum.scenario=='Proportionate action'"}],"mark":"text","encoding":{"text":{"field":"sector"}}},
{"width":213,"height":41,"view":{"fill":"#D9D9D9","stroke":"#333333","strokeWidth":1.5},"data":{"name":"p"},"transform":[{"filter":"datum.sector=='Semiconductors'&&datum.scenario=='Proportionate action'"}],"mark":"text","encoding":{"text":{"field":"scenario"}}},
{"width":213,"height":127,"transform":[{"filter":"datum.sector=='Semiconductors'&&datum.scenario=='Proportionate action'"}],"mark":"area","encoding":{"x":{"field":"year","type":"quantitative","scale":{"domain":[2020,2050],"nice":false,"zero":false},"axis":{"labels":false,"ticks":false,"title":null}},"y":{"field":"v","type":"quantitative","stack":"zero","scale":{"domain":[0,2.265],"nice":false},"axis":{"title":null,"labels":false,"ticks":false,"gridWidth":{"condition":{"test":"datum.value % 1","value":1},"value":2}}},"order":{"field":"k","type":"quantitative"},"color":{"field":"gas","type":"nominal","title":null,"sort":["HFCs","SF6","Other"],"scale":{"domain":["HFCs","SF6","Other"],"range":["#F8766D","#619CFF","#CD9600"]}}}}
],"spacing":0,"bounds":"flush"},
{"vconcat":[
{"width":213,"height":41,"view":{"fill":"#D9D9D9","stroke":"#333333","strokeWidth":1.5},"data":{"name":"p"},"transform":[{"filter":"datum.sector=='Semiconductors'&&datum.scenario=='Maximum feasibility'"}],"mark":"text","encoding":{"text":{"field":"sector"}}},
{"width":213,"height":41,"view":{"fill":"#D9D9D9","stroke":"#333333","strokeWidth":1.5},"data":{"name":"p"},"transform":[{"filter":"datum.sector=='Semiconductors'&&datum.scenario=='Maximum feasibility'"}],"mark":"text","encoding":{"text":{"field":"scenario"}}},
{"width":213,"height":127,"transform":[{"filter":"datum.sector=='Semiconductors'&&datum.scenario=='Maximum feasibility'"}],"mark":"area","encoding":{"x":{"field":"year","type":"quantitative","scale":{"domain":[2020,2050],"nice":false,"zero":false},"axis":{"labels":false,"ticks":false,"title":null}},"y":{"field":"v","type":"quantitative","stack":"zero","scale":{"domain":[0,2.265],"nice":false},"axis":{"title":null,"labels":false,"ticks":false,"gridWidth":{"condition":{"test":"datum.value % 1","value":1},"value":2}}},"order":{"field":"k","type":"quantitative"},"color":{"field":"gas","type":"nominal","title":null,"sort":["HFCs","SF6","Other"],"scale":{"domain":["HFCs","SF6","Other"],"range":["#F8766D","#619CFF","#CD9600"]}}}}
],"spacing":0,"bounds":"flush"}
],"spacing":33},
{"hconcat": [
{"vconcat":[
{"width":213,"height":41,"view":{"fill":"#D9D9D9","stroke":"#333333","strokeWidth":1.5},"data":{"name":"p"},"transform":[{"filter":"datum.sector=='Solvents'&&datum.scenario=='Baseline'"}],"mark":"text","encoding":{"text":{"field":"sector"}}},
{"width":213,"height":41,"view":{"fill":"#D9D9D9","stroke":"#333333","strokeWidth":1.5},"data":{"name":"p"},"transform":[{"filter":"datum.sector=='Solvents'&&datum.scenario=='Baseline'"}],"mark":"text","encoding":{"text":{"field":"scenario"}}},
{"width":213,"height":127,"transform":[{"filter":"datum.sector=='Solvents'&&datum.scenario=='Baseline'"}],"mark":"area","encoding":{"x":{"field":"year","type":"quantitative","scale":{"domain":[2020,2050],"nice":false,"zero":false},"axis":{"labels":false,"ticks":false,"title":null}},"y":{"field":"v","type":"quantitative","stack":"zero","scale":{"domain":[0,2.265],"nice":false},"axis":{"title":null,"gridWidth":{"condition":{"test":"datum.value % 1","value":1},"value":2},"tickOpacity":{"condition":{"test":"datum.value % 1","value":0},"value":1}}},"order":{"field":"k","type":"quantitative"},"color":{"field":"gas","type":"nominal","title":null,"sort":["HFCs","SF6","Other"],"scale":{"domain":["HFCs","SF6","Other"],"range":["#F8766D","#619CFF","#CD9600"]}}}}
],"spacing":0,"bounds":"flush"},
{"vconcat":[
{"width":213,"height":41,"view":{"fill":"#D9D9D9","stroke":"#333333","strokeWidth":1.5},"data":{"name":"p"},"transform":[{"filter":"datum.sector=='Solvents'&&datum.scenario=='MP alignment'"}],"mark":"text","encoding":{"text":{"field":"sector"}}},
{"width":213,"height":41,"view":{"fill":"#D9D9D9","stroke":"#333333","strokeWidth":1.5},"data":{"name":"p"},"transform":[{"filter":"datum.sector=='Solvents'&&datum.scenario=='MP alignment'"}],"mark":"text","encoding":{"text":{"field":"scenario"}}},
{"width":213,"height":127,"transform":[{"filter":"datum.sector=='Solvents'&&datum.scenario=='MP alignment'"}],"mark":"area","encoding":{"x":{"field":"year","type":"quantitative","scale":{"domain":[2020,2050],"nice":false,"zero":false},"axis":{"labels":false,"ticks":false,"title":null}},"y":{"field":"v","type":"quantitative","stack":"zero","scale":{"domain":[0,2.265],"nice":false},"axis":{"title":null,"labels":false,"ticks":false,"gridWidth":{"condition":{"test":"datum.value % 1","value":1},"value":2}}},"order":{"field":"k","type":"quantitative"},"color":{"field":"gas","type":"nominal","title":null,"sort":["HFCs","SF6","Other"],"scale":{"domain":["HFCs","SF6","Other"],"range":["#F8766D","#619CFF","#CD9600"]}}}}
],"spacing":0,"bounds":"flush"},
{"vconcat":[
{"width":213,"height":41,"view":{"fill":"#D9D9D9","stroke":"#333333","strokeWidth":1.5},"data":{"name":"p"},"transform":[{"filter":"datum.sector=='Solvents'&&datum.scenario=='Proportionate action'"}],"mark":"text","encoding":{"text":{"field":"sector"}}},
{"width":213,"height":41,"view":{"fill":"#D9D9D9","stroke":"#333333","strokeWidth":1.5},"data":{"name":"p"},"transform":[{"filter":"datum.sector=='Solvents'&&datum.scenario=='Proportionate action'"}],"mark":"text","encoding":{"text":{"field":"scenario"}}},
{"width":213,"height":127,"transform":[{"filter":"datum.sector=='Solvents'&&datum.scenario=='Proportionate action'"}],"mark":"area","encoding":{"x":{"field":"year","type":"quantitative","scale":{"domain":[2020,2050],"nice":false,"zero":false},"axis":{"labels":false,"ticks":false,"title":null}},"y":{"field":"v","type":"quantitative","stack":"zero","scale":{"domain":[0,2.265],"nice":false},"axis":{"title":null,"labels":false,"ticks":false,"gridWidth":{"condition":{"test":"datum.value % 1","value":1},"value":2}}},"order":{"field":"k","type":"quantitative"},"color":{"field":"gas","type":"nominal","title":null,"sort":["HFCs","SF6","Other"],"scale":{"domain":["HFCs","SF6","Other"],"range":["#F8766D","#619CFF","#CD9600"]}}}}
],"spacing":0,"bounds":"flush"},
{"vconcat":[
{"width":213,"height":41,"view":{"fill":"#D9D9D9","stroke":"#333333","strokeWidth":1.5},"data":{"name":"p"},"transform":[{"filter":"datum.sector=='Solvents'&&datum.scenario=='Maximum feasibility'"}],"mark":"text","encoding":{"text":{"field":"sector"}}},
{"width":213,"height":41,"view":{"fill":"#D9D9D9","stroke":"#333333","strokeWidth":1.5},"data":{"name":"p"},"transform":[{"filter":"datum.sector=='Solvents'&&datum.scenario=='Maximum feasibility'"}],"mark":"text","encoding":{"text":{"field":"scenario"}}},
{"width":213,"height":127,"transform":[{"filter":"datum.sector=='Solvents'&&datum.scenario=='Maximum feasibility'"}],"mark":"area","encoding":{"x":{"field":"year","type":"quantitative","scale":{"domain":[2020,2050],"nice":false,"zero":false},"axis":{"labels":false,"ticks":false,"title":null}},"y":{"field":"v","type":"quantitative","stack":"zero","scale":{"domain":[0,2.265],"nice":false},"axis":{"title":null,"labels":false,"ticks":false,"gridWidth":{"condition":{"test":"datum.value % 1","value":1},"value":2}}},"order":{"field":"k","type":"quantitative"},"color":{"field":"gas","type":"nominal","title":null,"sort":["HFCs","SF6","Other"],"scale":{"domain":["HFCs","SF6","Other"],"range":["#F8766D","#619CFF","#CD9600"]}}}}
],"spacing":0,"bounds":"flush"}
],"spacing":33},
{"hconcat": [
{"vconcat":[
{"width":213,"height":41,"view":{"fill":"#D9D9D9","stroke":"#333333","strokeWidth":1.5},"data":{"name":"p"},"transform":[{"filter":"datum.sector=='Technical aerosols'&&datum.scenario=='Baseline'"}],"mark":"text","encoding":{"text":{"field":"sector"}}},
{"width":213,"height":41,"view":{"fill":"#D9D9D9","stroke":"#333333","strokeWidth":1.5},"data":{"name":"p"},"transform":[{"filter":"datum.sector=='Technical aerosols'&&datum.scenario=='Baseline'"}],"mark":"text","encoding":{"text":{"field":"scenario"}}},
{"width":213,"height":127,"transform":[{"filter":"datum.sector=='Technical aerosols'&&datum.scenario=='Baseline'"}],"mark":"area","encoding":{"x":{"field":"year","type":"quantitative","scale":{"domain":[2020,2050],"nice":false,"zero":false},"axis":{"title":null}},"y":{"field":"v","type":"quantitative","stack":"zero","scale":{"domain":[0,2.265],"nice":false},"axis":{"title":null,"gridWidth":{"condition":{"test":"datum.value % 1","value":1},"value":2},"tickOpacity":{"condition":{"test":"datum.value % 1","value":0},"value":1}}},"order":{"field":"k","type":"quantitative"},"color":{"field":"gas","type":"nominal","title":null,"sort":["HFCs","SF6","Other"],"scale":{"domain":["HFCs","SF6","Other"],"range":["#F8766D","#619CFF","#CD9600"]}}}}
],"spacing":0,"bounds":"flush"},
{"vconcat":[
{"width":213,"height":41,"view":{"fill":"#D9D9D9","stroke":"#333333","strokeWidth":1.5},"data":{"name":"p"},"transform":[{"filter":"datum.sector=='Technical aerosols'&&datum.scenario=='MP alignment'"}],"mark":"text","encoding":{"text":{"field":"sector"}}},
{"width":213,"height":41,"view":{"fill":"#D9D9D9","stroke":"#333333","strokeWidth":1.5},"data":{"name":"p"},"transform":[{"filter":"datum.sector=='Technical aerosols'&&datum.scenario=='MP alignment'"}],"mark":"text","encoding":{"text":{"field":"scenario"}}},
{"width":213,"height":127,"transform":[{"filter":"datum.sector=='Technical aerosols'&&datum.scenario=='MP alignment'"}],"mark":"area","encoding":{"x":{"field":"year","type":"quantitative","scale":{"domain":[2020,2050],"nice":false,"zero":false},"axis":{"title":null}},"y":{"field":"v","type":"quantitative","stack":"zero","scale":{"domain":[0,2.265],"nice":false},"axis":{"title":null,"labels":false,"ticks":false,"gridWidth":{"condition":{"test":"datum.value % 1","value":1},"value":2}}},"order":{"field":"k","type":"quantitative"},"color":{"field":"gas","type":"nominal","title":null,"sort":["HFCs","SF6","Other"],"scale":{"domain":["HFCs","SF6","Other"],"range":["#F8766D","#619CFF","#CD9600"]}}}}
],"spacing":0,"bounds":"flush"},
{"vconcat":[
{"width":213,"height":41,"view":{"fill":"#D9D9D9","stroke":"#333333","strokeWidth":1.5},"data":{"name":"p"},"transform":[{"filter":"datum.sector=='Technical aerosols'&&datum.scenario=='Proportionate action'"}],"mark":"text","encoding":{"text":{"field":"sector"}}},
{"width":213,"height":41,"view":{"fill":"#D9D9D9","stroke":"#333333","strokeWidth":1.5},"data":{"name":"p"},"transform":[{"filter":"datum.sector=='Technical aerosols'&&datum.scenario=='Proportionate action'"}],"mark":"text","encoding":{"text":{"field":"scenario"}}},
{"width":213,"height":127,"transform":[{"filter":"datum.sector=='Technical aerosols'&&datum.scenario=='Proportionate action'"}],"mark":"area","encoding":{"x":{"field":"year","type":"quantitative","scale":{"domain":[2020,2050],"nice":false,"zero":false},"axis":{"title":null}},"y":{"field":"v","type":"quantitative","stack":"zero","scale":{"domain":[0,2.265],"nice":false},"axis":{"title":null,"labels":false,"ticks":false,"gridWidth":{"condition":{"test":"datum.value % 1","value":1},"value":2}}},"order":{"field":"k","type":"quantitative"},"color":{"field":"gas","type":"nominal","title":null,"sort":["HFCs","SF6","Other"],"scale":{"domain":["HFCs","SF6","Other"],"range":["#F8766D","#619CFF","#CD9600"]}}}}
],"spacing":0,"bounds":"flush"},
{"vconcat":[
{"width":213,"height":41,"view":{"fill":"#D9D9D9","stroke":"#333333","strokeWidth":1.5},"data":{"name":"p"},"transform":[{"filter":"datum.sector=='Technical aerosols'&&datum.scenario=='Maximum feasibility'"}],"mark":"text","encoding":{"text":{"field":"sector"}}},
{"width":213,"height":41,"view":{"fill":"#D9D9D9","stroke":"#333333","strokeWidth":1.5},"data":{"name":"p"},"transform":[{"filter":"datum.sector=='Technical aerosols'&&datum.scenario=='Maximum feasibility'"}],"mark":"text","encoding":{"text":{"field":"scenario"}}},
{"width":213,"height":127,"transform":[{"filter":"datum.sector=='Technical aerosols'&&datum.scenario=='Maximum feasibility'"}],"mark":"area","encoding":{"x":{"field":"year","type":"quantitative","scale":{"domain":[2020,2050],"nice":false,"zero":false},"axis":{"title":null}},"y":{"field":"v","type":"quantitative","stack":"zero","scale":{"domain":[0,2.265],"nice":false},"axis":{"title":null,"labels":false,"ticks":false,"gridWidth":{"condition":{"test":"datum.value % 1","value":1},"value":2}}},"order":{"field":"k","type":"quantitative"},"color":{"field":"gas","type":"nominal","title":null,"sort":["HFCs","SF6","Other"],"scale":{"domain":["HFCs","SF6","Other"],"range":["#F8766D","#619CFF","#CD9600"]}}}}
],"spacing":0,"bounds":"flush"}
],"spacing":12,"title":{"text":"Year","orient":"bottom","anchor":"middle","fontSize":26,"fontWeight":"normal","color":"black","offset":4,"dx":6}}
],
"config": {
"font": "Liberation Sans",
"background": "white",
"view": {"stroke": "#333333", "strokeWidth": 1.5},
"style": {"cell": {"strokeForeground": true}},
"axis": {"gridColor": "#EBEBEB", "gridWidth": 2, "domain": false, "tickColor": "#333333", "tickWidth": 1.5, "tickSize": 5, "labelColor": "#4D4D4D", "labelFontSize": 20.8, "labelPadding": 6, "labelFlush": false, "labelOverlap": false},
"axisX": {"tickCount": 7, "labelAngle": 270, "labelPadding": 5, "labelExpr": "format(datum.value, 'd')"},
"axisY": {"tickCount": 5, "labelExpr": "datum.value % 1 ? '' : format(datum.value, 'd')"},
"legend": {"orient": "none", "legendX": 998, "legendY": 702, "symbolType": "square", "symbolSize": 1444, "symbolStrokeWidth": 0, "labelFontSize": 20.8, "labelColor": "black", "labelOffset": 14, "rowPadding": 3.5},
"text": {"fontSize": 20.8, "color": "#1A1A1A", "baseline": "middle", "align": "center"},
"title": {"fontSize": 26, "fontWeight": "normal", "color": "black"}
}
}
